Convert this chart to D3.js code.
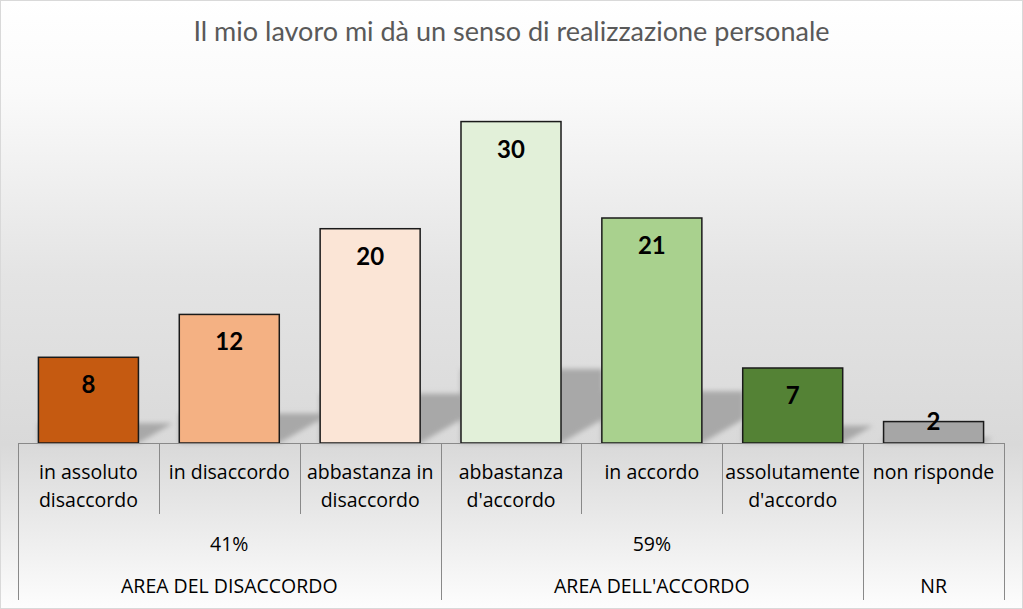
<!DOCTYPE html>
<html>
<head>
<meta charset="utf-8">
<script src="https://cdn.jsdelivr.net/npm/d3@7"></script>
<style>
  body { margin: 0; background: #fff; }
  svg { display: block; font-family: Lato, "Open Sans", sans-serif; }
</style>
</head>
<body>
<svg width="1023" height="609"></svg>
<script>
const svg = d3.select("svg");
const width = +svg.attr("width");
const height = +svg.attr("height");

// DATA
const categories = ["in assoluto disaccordo", "in disaccordo", "abbastanza in disaccordo",
  "abbastanza d'accordo", "in accordo", "assolutamente d'accordo", "non risponde"];
const values = [8, 12, 20, 30, 21, 7, 2];
const groups = ["AREA DEL DISACCORDO", "AREA DELL'ACCORDO", "NR"];
const groupShares = ["41%", "59%", ""];
const groupSizes = [3, 3, 1];
const title = "Il mio lavoro mi dà un senso di realizzazione personale";

const barColors = ["#c55a11", "#f4b183", "#fbe5d6", "#e2f0d9", "#a9d18e", "#548235", "#a6a6a6"];

// LAYOUT
const plot = { left: 18, right: 1004, top: 68, base: 443 };
const axisFont = "'Open Sans', Lato, sans-serif";

const x = d3.scaleBand()
  .domain(categories)
  .range([plot.left, plot.right])
  .paddingInner(0.29)
  .paddingOuter(0.145);

const y = d3.scaleLinear()
  .domain([0, 35])
  .range([plot.base, plot.top]);

const color = d3.scaleOrdinal().domain(categories).range(barColors);

// BACKGROUND
const defs = svg.append("defs");
const bg = defs.append("linearGradient")
  .attr("id", "bg").attr("x1", 0).attr("y1", 0).attr("x2", 0).attr("y2", 1);
[[0, "#ffffff"], [0.15, "#fafafa"], [0.45, "#e4e4e4"], [0.73, "#d9d9d9"], [1, "#fdfdfd"]]
  .forEach(([o, c]) => bg.append("stop").attr("offset", o).attr("stop-color", c));

defs.append("filter").attr("id", "blur")
  .attr("x", "-20%").attr("y", "-20%").attr("width", "140%").attr("height", "140%")
  .append("feGaussianBlur").attr("stdDeviation", 2.5);

svg.append("rect")
  .attr("x", 0.5).attr("y", 0.5)
  .attr("width", width - 1).attr("height", height - 1)
  .attr("fill", "url(#bg)")
  .attr("stroke", "#d9d9d9");

// TITLE
svg.append("text")
  .attr("x", width / 2)
  .attr("y", 41)
  .attr("text-anchor", "middle")
  .attr("font-size", "27px")
  .attr("fill", "#595959")
  .text(title);

const data = categories.map((c, i) => ({ cat: c, value: values[i] }));

// SHADOWS
svg.append("g")
  .attr("filter", "url(#blur)")
  .selectAll("polygon")
  .data(data)
  .join("polygon")
  .attr("fill", "#a8a8a8")
  .attr("points", d => {
    const x0 = x(d.cat), x1 = x0 + x.bandwidth();
    const base = y(0);
    const sh = (base - y(d.value)) * 0.23;
    const rise = Math.min(24, sh);
    const run = 42 * rise / 24;
    return [[x0, base], [x1, base], [x1 + run, base - rise], [x1 + run, base - sh], [x0, base - sh]]
      .map(p => p.join(",")).join(" ");
  });

// BARS
svg.append("g")
  .selectAll("rect")
  .data(data)
  .join("rect")
  .attr("x", d => x(d.cat))
  .attr("y", d => y(d.value))
  .attr("width", x.bandwidth())
  .attr("height", d => y(0) - y(d.value))
  .attr("fill", d => color(d.cat))
  .attr("stroke", "#1a1a1a")
  .attr("stroke-width", 1.5);

// VALUE LABELS
svg.append("g")
  .selectAll("text")
  .data(data)
  .join("text")
  .attr("x", d => x(d.cat) + x.bandwidth() / 2)
  .attr("y", d => Math.min(y(d.value) + 36, y(0) - 13))
  .attr("text-anchor", "middle")
  .attr("font-size", "24px")
  .attr("font-weight", "bold")
  .attr("fill", "#000")
  .text(d => d.value);

// AXIS (multi-level categories)
const axis = svg.append("g").attr("stroke", "#898989").attr("stroke-width", 1);
const step = x.step();
const x0 = x.range()[0];

axis.append("line")
  .attr("x1", plot.left).attr("x2", plot.right)
  .attr("y1", plot.base + 0.5).attr("y2", plot.base + 0.5);

// group boundaries (long ticks)
const groupEdges = [0];
groupSizes.forEach(n => groupEdges.push(groupEdges[groupEdges.length - 1] + n));

axis.selectAll("line.inner")
  .data(d3.range(1, categories.length).filter(i => !groupEdges.includes(i)))
  .join("line")
  .attr("class", "inner")
  .attr("x1", i => Math.round(x0 + i * step) + 0.5)
  .attr("x2", i => Math.round(x0 + i * step) + 0.5)
  .attr("y1", plot.base).attr("y2", 514);

axis.selectAll("line.outer")
  .data(groupEdges)
  .join("line")
  .attr("class", "outer")
  .attr("x1", i => Math.round(x0 + i * step) + 0.5)
  .attr("x2", i => Math.round(x0 + i * step) + 0.5)
  .attr("y1", plot.base).attr("y2", 600);

// category labels with wrapping
const labelSize = 19.5;
const catLabels = svg.append("g")
  .selectAll("text")
  .data(categories)
  .join("text")
  .attr("text-anchor", "middle")
  .attr("font-family", axisFont)
  .attr("font-size", labelSize + "px")
  .attr("fill", "#000");

catLabels.each(function (c) {
  const t = d3.select(this);
  const cx = x(c) + x.bandwidth() / 2;
  const words = c.split(" ");
  const lines = [];
  let line = [];
  words.forEach(w => {
    line.push(w);
    t.text(line.join(" "));
    if (this.getComputedTextLength() > step - 2 && line.length > 1) {
      line.pop();
      lines.push(line.join(" "));
      line = [w];
    }
  });
  lines.push(line.join(" "));
  t.text(null);
  lines.forEach((l, k) => {
    t.append("tspan").attr("x", cx).attr("y", 479 + k * 28).text(l);
  });
});

// group labels
const groupCenter = i => x0 + (groupEdges[i] + groupEdges[i + 1]) / 2 * step;

svg.append("g")
  .selectAll("text")
  .data(groupShares)
  .join("text")
  .attr("x", (d, i) => groupCenter(i))
  .attr("y", 551)
  .attr("text-anchor", "middle")
  .attr("font-family", axisFont)
  .attr("font-size", labelSize + "px")
  .text(d => d);

svg.append("g")
  .selectAll("text")
  .data(groups)
  .join("text")
  .attr("x", (d, i) => groupCenter(i))
  .attr("y", 593)
  .attr("text-anchor", "middle")
  .attr("font-family", axisFont)
  .attr("font-size", labelSize + "px")
  .text(d => d);
</script>
</body>
</html>
